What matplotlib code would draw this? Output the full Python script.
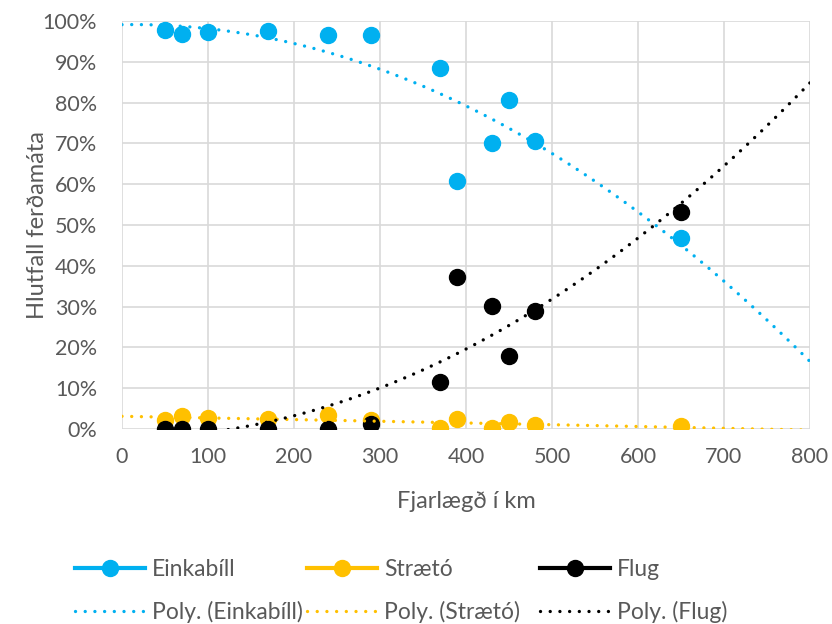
import numpy as np
import matplotlib.pyplot as plt
from matplotlib.lines import Line2D
from matplotlib.ticker import PercentFormatter

plt.rcParams["font.family"] = ["Lato", "DejaVu Sans"]

# Fjarlægð (km) og hlutfall ferðamáta (%)
km = [50, 70, 100, 170, 240, 290, 370, 390, 430, 450, 480, 650]
einkabill = [97.8, 96.8, 97.3, 97.6, 96.6, 96.6, 88.5, 60.8, 70.1, 80.6, 70.6, 46.8]
straeto = [2.2, 3.2, 2.7, 2.4, 3.4, 2.2, 0.2, 2.4, 0.2, 1.7, 1.0, 0.7]
flug = [0.0, 0.0, 0.0, 0.0, 0.0, 1.2, 11.5, 37.3, 30.1, 17.9, 28.9, 53.2]

series = [
    ("Einkabíll", einkabill, "#00B0F0"),
    ("Strætó", straeto, "#FFC000"),
    ("Flug", flug, "#000000"),
]
grey = "#595959"
dots = (0, (0.01, 2.9))

fig = plt.figure(figsize=(8.32, 6.24), dpi=100)
ax = fig.add_axes([122 / 832, 1 - 429 / 624, 688 / 832, 408 / 624])

x = np.array(km, dtype=float)
for name, vals, color in series:
    ax.plot(x, np.array(vals) / 100, "o", color=color, markersize=11.5, zorder=3)

# annars stigs margliðutrendlínur yfir allt bilið
xs = np.linspace(0, 800, 400)
for name, vals, color in series:
    coef = np.polyfit(x, np.array(vals) / 100, 2)
    ax.plot(xs, np.polyval(coef, xs), color=color, linestyle=dots,
            linewidth=2.4, dash_capstyle="round", zorder=4)

ax.set_xlim(0, 800)
ax.set_ylim(0, 1.0)
ax.set_xticks(np.arange(0, 801, 100))
ax.set_yticks(np.arange(0, 1.01, 0.1))
ax.yaxis.set_major_formatter(PercentFormatter(1.0, decimals=0))
ax.grid(True, color="#D9D9D9", linewidth=1.2)
ax.set_axisbelow(True)
for s in ax.spines.values():
    s.set_visible(False)
ax.tick_params(length=0, labelsize=15.5, colors=grey)
ax.tick_params(axis="y", pad=18)
ax.tick_params(axis="x", pad=13)
ax.set_xlabel("Fjarlægð í km", fontsize=17, color=grey, labelpad=17)
ax.set_ylabel("Hlutfall ferðamáta", fontsize=17, color=grey, labelpad=-4)

# ein lítil skýring fyrir hvern dálk svo dálkarnir séu jafnbreiðir
col_x = [75, 307, 540]
for (name, vals, color), cx in zip(series, col_x):
    h = [
        Line2D([], [], color=color, linewidth=3, marker="o", markersize=11.5),
        Line2D([], [], color=color, linewidth=2.4, linestyle=dots,
               dash_capstyle="round"),
    ]
    leg = fig.legend(h, [name, f"Poly. ({name})"], loc="center left",
                     bbox_to_anchor=(cx / 832, 1 - 591 / 624), frameon=False,
                     fontsize=16.5, handlelength=3.05, handletextpad=0.3,
                     labelspacing=0.95, borderpad=0, borderaxespad=0)
    for t in leg.get_texts():
        t.set_color(grey)

fig.savefig("out.png", dpi=100)
